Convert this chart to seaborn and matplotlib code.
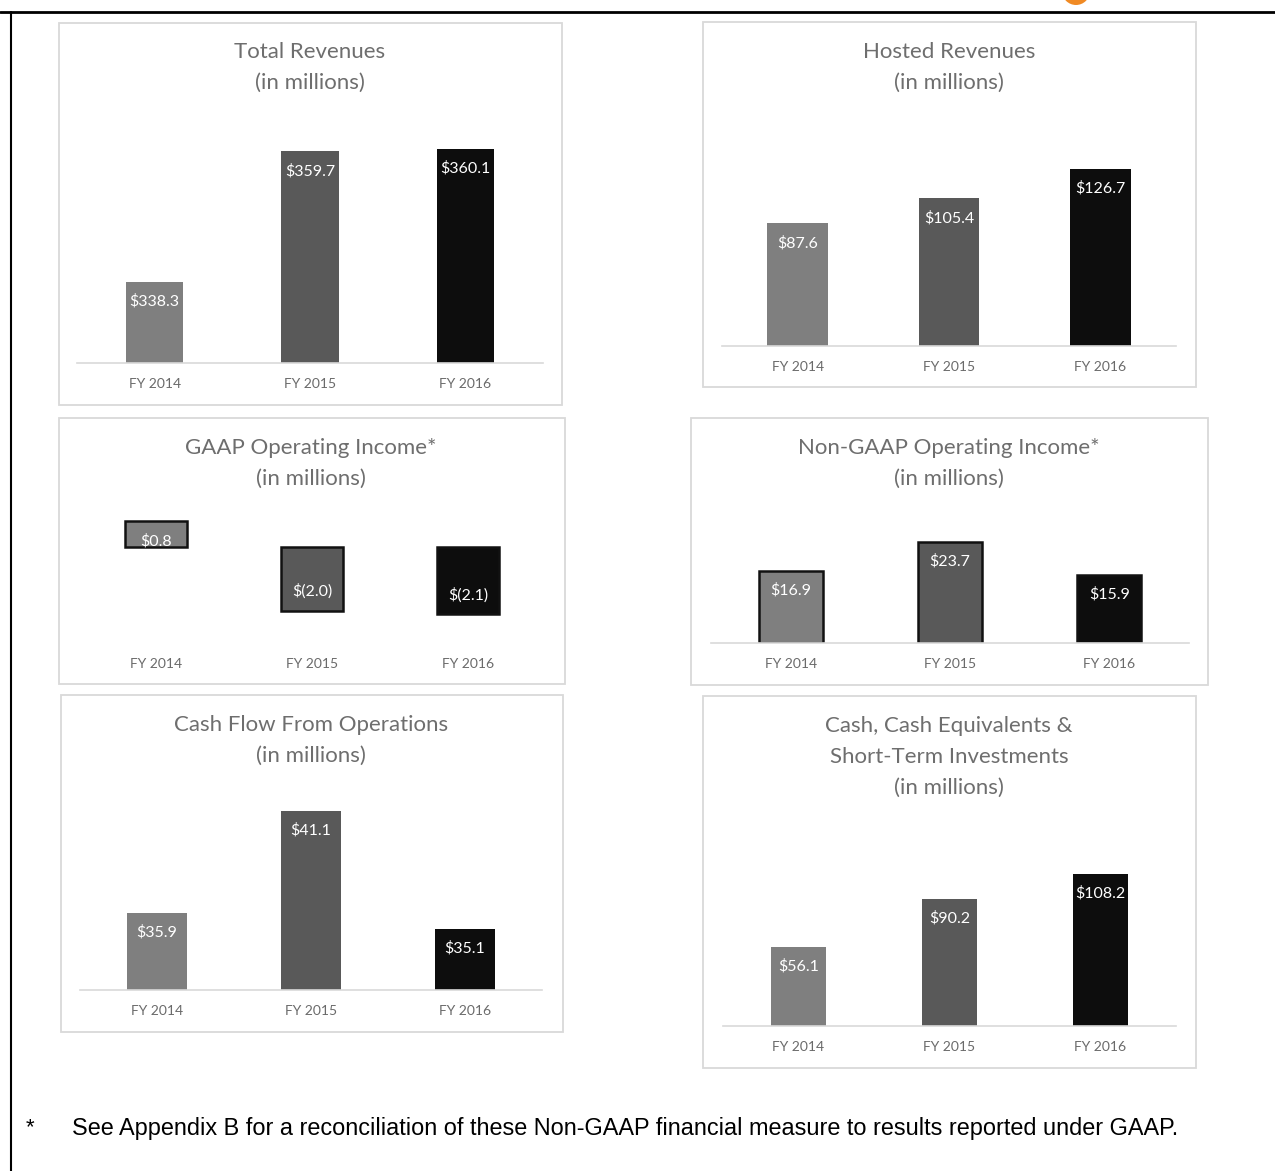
import matplotlib
matplotlib.use("Agg")
import matplotlib.pyplot as plt
from matplotlib.patches import Rectangle, Ellipse
from matplotlib.lines import Line2D
import seaborn as sns
import pandas as pd

# Data (in millions)
categories = ["FY 2014", "FY 2015", "FY 2016"]
total_revenues = [338.3, 359.7, 360.1]
hosted_revenues = [87.6, 105.4, 126.7]
gaap_operating_income = [0.8, -2.0, -2.1]
non_gaap_operating_income = [16.9, 23.7, 15.9]
cash_flow_operations = [35.9, 41.1, 35.1]
cash_and_investments = [56.1, 90.2, 108.2]

bar_colors = ["#7f7f7f", "#595959", "#0d0d0d"]
footnote = "See Appendix B for a reconciliation of these Non-GAAP financial measure to results reported under GAAP."

W, H = 1275, 1171
sns.set_theme(style="white")
plt.rcParams['font.family'] = ['Lato', 'DejaVu Sans']

fig = plt.figure(figsize=(W / 100, H / 100), dpi=100)
fig.patch.set_facecolor("white")


def fx(x):
    return x / W


def fy(y):
    return 1 - y / H


def fmt(v):
    return f"$({abs(v):.1f})" if v < 0 else f"${v:.1f}"


# panel: box, title lines, axes rect (left, top, right, bottom px), ylim, bar width, edges, show baseline
panels = [
    dict(values=total_revenues, box=(59, 23, 562, 405), title=["Total Revenues", "(in millions)"],
         tx=310, ty=52, ax=(77, 119, 543, 363), ylim=(325, 365), width=0.37, edge=False, base=True),
    dict(values=hosted_revenues, box=(703, 22, 1196, 387), title=["Hosted Revenues", "(in millions)"],
         tx=949, ty=52, ax=(722, 150, 1176, 346), ylim=(0, 140), width=0.40, edge=False, base=True),
    dict(values=gaap_operating_income, box=(59, 418, 565, 684), title=["GAAP Operating Income*", "(in millions)"],
         tx=311, ty=448, ax=(78, 515, 546, 643), ylim=(-3, 1), width=0.40, edge=True, base=False),
    dict(values=non_gaap_operating_income, box=(691, 418, 1208, 685), title=["Non-GAAP Operating Income*", "(in millions)"],
         tx=949, ty=448, ax=(711, 515, 1189, 643), ylim=(0, 30), width=0.40, edge=True, base=True),
    dict(values=cash_flow_operations, box=(61, 695, 563, 1032), title=["Cash Flow From Operations", "(in millions)"],
         tx=311, ty=725, ax=(80, 793, 542, 990), ylim=(32, 42), width=0.39, edge=False, base=True),
    dict(values=cash_and_investments, box=(703, 696, 1196, 1068),
         title=["Cash, Cash Equivalents &", "Short-Term Investments", "(in millions)"],
         tx=949, ty=726, ax=(723, 857, 1176, 1026), ylim=(0, 120), width=0.37, edge=False, base=True),
]

for p in panels:
    # light gray frame around each chart
    x0, y0, x1, y1 = p["box"]
    fig.add_artist(Rectangle((fx(x0), fy(y1)), fx(x1 - x0), (y1 - y0) / H, transform=fig.transFigure,
                             fill=False, edgecolor="#d9d9d9", linewidth=1.3))
    for i, line in enumerate(p["title"]):
        fig.text(fx(p["tx"]), fy(p["ty"] + 31 * i), line, ha="center", va="center",
                 fontsize=16, color="#6e6e6e")

    l, t, r, b = p["ax"]
    ax = fig.add_axes([fx(l), fy(b), (r - l) / W, (b - t) / H])
    df = pd.DataFrame({"year": categories, "value": p["values"]})
    sns.barplot(data=df, x="year", y="value", hue="year", palette=bar_colors, legend=False,
                width=p["width"], ax=ax, saturation=1,
                edgecolor="#111111" if p["edge"] else "none", linewidth=1.8 if p["edge"] else 0)
    ax.set_ylim(*p["ylim"])
    ax.set_xlim(-0.5, 2.5)
    ax.set_xlabel("")
    ax.set_ylabel("")
    ax.set_yticks([])
    ax.tick_params(axis="x", length=0, pad=11, labelsize=10, labelcolor="#6a6a6a")
    for s in ["top", "left", "right"]:
        ax.spines[s].set_visible(False)
    if p["base"]:
        ax.spines["bottom"].set_color("#d9d9d9")
        ax.spines["bottom"].set_linewidth(1.2)
    else:
        ax.spines["bottom"].set_visible(False)
    ax.set_facecolor("none")

    # data labels inside the bar end
    for i, v in enumerate(p["values"]):
        ax.annotate(fmt(v), xy=(i, v), xytext=(0, 14 if v < 0 else -14), textcoords="offset points",
                    ha="center", va="center", fontsize=11.5, color="white", annotation_clip=False)

# page frame lines
fig.add_artist(Line2D([0, 1], [fy(12), fy(12)], transform=fig.transFigure, color="black", linewidth=2))
fig.add_artist(Line2D([fx(11), fx(11)], [fy(12), 0], transform=fig.transFigure, color="black", linewidth=1.5))
fig.add_artist(Ellipse((fx(1076), fy(-9)), 28 / W, 28 / H, transform=fig.transFigure,
                       facecolor="#f08a24", edgecolor="none"))

# footnote
fig.text(fx(26), fy(1128), "*", ha="left", va="center", fontsize=16, color="black",
         family=["Liberation Sans", "DejaVu Sans"])
fig.text(fx(72), fy(1128), footnote, ha="left", va="center", fontsize=16.9, color="black",
         family=["Liberation Sans", "DejaVu Sans"])

fig.savefig("out.png", dpi=100, facecolor="white")
